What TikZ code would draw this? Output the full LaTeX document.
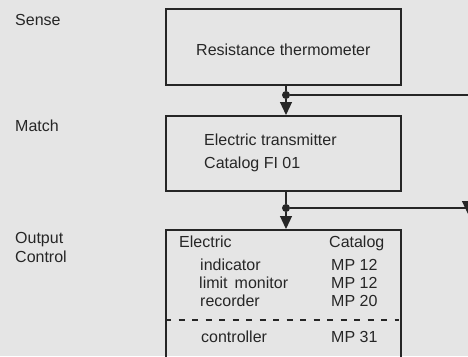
\documentclass[tikz,border=0pt]{standalone}
\usepackage{fontspec}
\setmainfont{Liberation Sans}
\usetikzlibrary{positioning,arrows.meta}
\definecolor{bggray}{RGB}{229,229,229}
\definecolor{inkgray}{RGB}{38,38,38}

\begin{document}
\begin{tikzpicture}[x=1pt, y=-1pt]
\tikzset{
  block/.style={rectangle, draw=inkgray, line width=2pt, minimum width=235pt, inner sep=0pt},
  stage/.style={anchor=base west, inner sep=0pt, font=\fontsize{16}{19}\selectfont, text=inkgray},
  txt/.style={anchor=base west, inner sep=0pt, font=\fontsize{16}{19}\selectfont, text=inkgray},
  fl/.style={draw=inkgray, line width=1.2pt},
  flarr/.style={fl, -{Triangle[length=13pt, width=12pt]}},
  junct/.style={circle, fill=inkgray, inner sep=0pt, minimum size=8pt}
}
\fill[bggray] (0,0) rectangle (468,356);
\useasboundingbox (0,0) rectangle (468,356);
\clip (0,0) rectangle (468,356);
\node[stage] (lsense)   at (15,25)  {Sense};
\node[stage] (lmatch)   at (15,131) {Match};
\node[stage] (loutput)  at (15,243) {Output};
\node[stage] (lcontrol) at (15,262) {Control};
\node[block, minimum height=76pt] (sense) at (283.5,47) {};
\node[block, minimum height=75pt] (match) at (283.5,153.5) {};
\node[block, minimum height=160pt] (output) at (283.5,310) {};
\node[txt] (tsense) at (196,55) {Resistance thermometer};
\node[txt] (tmatch1) at (204,145.5) {Electric transmitter};
\node[txt] (tmatch2) at (204,168) {Catalog FI 01};
\node[txt] (hname) at (179,247) {Electric};
\node[txt] (hcat)  at (329,247) {Catalog};
\node[txt] (n1) at (200,270) {indicator};
\node[txt] (n2) at (199,288) {limit\ \,monitor};
\node[txt] (n3) at (200,306) {recorder};
\node[txt] (n4) at (201,342) {controller};
\node[txt] (c1) at (331,270) {MP 12};
\node[txt] (c2) at (331,288) {MP 12};
\node[txt] (c3) at (331,306) {MP 20};
\node[txt] (c4) at (331,342) {MP 31};
\node[junct] (j1) at (286,95) {};
\node[junct] (j2) at (286,208) {};
\coordinate (r1) at (468,95);
\coordinate (r2) at (468,208);
\coordinate (r2end) at (468,214);
\coordinate (dsh) at (0,320);
\draw[fl] (j1 |- sense.south) -- (j1);
\draw[flarr] (j1) -- (j1 |- match.north);
\draw[fl] (j1) -- (r1);
\draw[fl] (j2 |- match.south) -- (j2);
\draw[flarr] (j2) -- (j2 |- output.north);
\draw[flarr] (j2) -- (r2) -- (r2end);
\draw[fl, dash pattern=on 6pt off 7.5pt] (output.west |- dsh) -- ([xshift=-3pt]output.east |- dsh);
\end{tikzpicture}
\end{document}
